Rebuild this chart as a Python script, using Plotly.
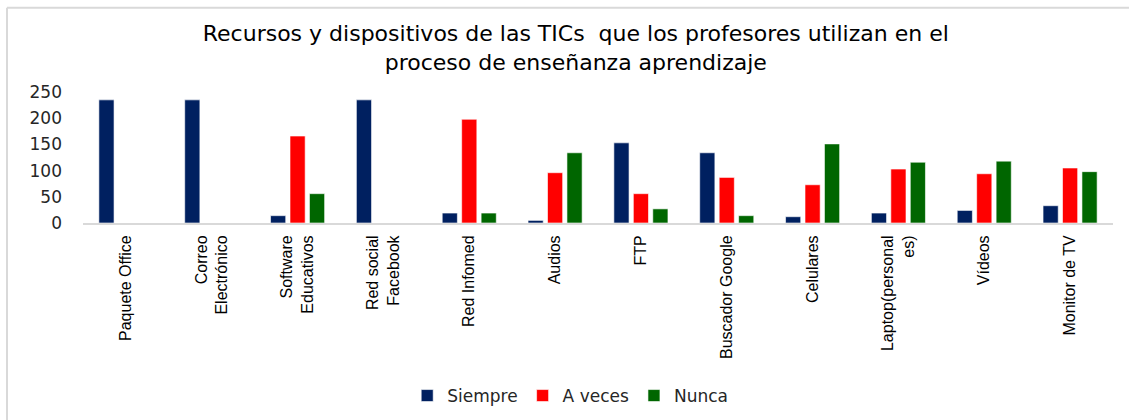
import plotly.graph_objects as go

categories = ["Paquete Office", "Correo<br>Electrónico", "Software<br>Educativos",
              "Red social<br>Facebook", "Red Infomed", "Audios", "FTP",
              "Buscador Google", "Celulares", "Laptop(personal<br>es)", "Vídeos",
              "Monitor de TV"]
siempre = [235, 235, 14, 235, 19, 5, 153, 134, 12, 19, 24, 33]
a_veces = [None, None, 166, None, 198, 96, 56, 87, 73, 103, 94, 105]
nunca = [None, None, 56, None, 19, 134, 27, 14, 151, 116, 118, 98]
series_names = ["Siempre", "A veces", "Nunca"]
series_colors = ["#002060", "#FF0000", "#006600"]
y_ticks = [0, 50, 100, 150, 200, 250]
title_text = ("Recursos y dispositivos de las TICs  que los profesores utilizan en el<br>"
              "proceso de enseñanza aprendizaje")

fig = go.Figure()
for name, vals, col in zip(series_names, [siempre, a_veces, nunca], series_colors):
    fig.add_trace(go.Bar(
        x=categories, y=vals, name=name,
        marker=dict(color=col, line=dict(color="rgba(255,255,255,0.6)", width=1)),
    ))

L, R, T, B = 83, 16, 92, 197
fig.update_layout(
    width=1129, height=420,
    margin=dict(l=L, r=R, t=T, b=B, autoexpand=False),
    paper_bgcolor="white", plot_bgcolor="white",
    barmode="group", bargap=0.32, bargroupgap=0.22,
    title=dict(text=title_text, x=0.51, xanchor="center", y=0.902, yanchor="middle",
               font=dict(family="DejaVu Sans", size=22, color="#000000")),
    legend=dict(orientation="h", x=0.473, xanchor="center", y=1 - 396 / 420,
                yref="container", yanchor="middle",
                font=dict(family="DejaVu Sans", size=17, color="#262626"),
                traceorder="normal"),
    xaxis=dict(showline=True, linecolor="#d9d9d9", linewidth=2, showgrid=False,
               ticks="", tickangle=-90, ticklabelstandoff=4, automargin=False,
               tickfont=dict(family="Liberation Sans, Arial", size=16, color="#000000")),
    yaxis=dict(range=[0, 250], tickvals=y_ticks, showgrid=False, zeroline=False,
               showline=False, ticks="", ticklabelstandoff=20, automargin=False,
               tickfont=dict(family="DejaVu Sans", size=17, color="#262626")),
    shapes=[
        dict(type="line", xref="paper", yref="paper", x0=-0.0738, x1=1.02, y0=1.6436, y1=1.6436,
             line=dict(color="#d9d9d9", width=2)),
        dict(type="line", xref="paper", yref="paper", x0=-0.0738, x1=-0.0738, y0=1.6436, y1=-1.6,
             line=dict(color="#d9d9d9", width=2)),
    ],
)

fig.write_html("out.html", config={"displayModeBar": False},
               post_script="document.body.style.margin='0';")
